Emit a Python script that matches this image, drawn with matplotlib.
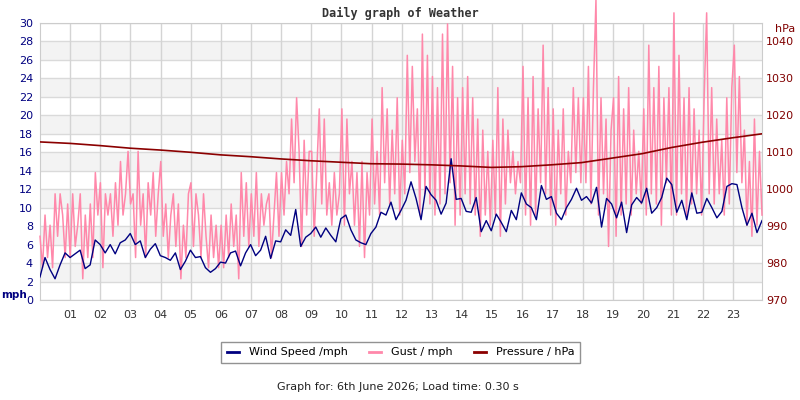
import numpy as np
import matplotlib
matplotlib.use("Agg")
import matplotlib.pyplot as plt

# wind speed, 10 minute samples (mph)
wind = [
	2.5, 4.6, 3.3, 2.3, 3.8, 5.1,
	4.6, 5.0, 5.4, 3.4, 3.8, 6.5,
	6.0, 5.1, 6.0, 5.0, 6.2, 6.5,
	7.2, 6.0, 6.4, 4.6, 5.5, 6.1,
	4.8, 4.6, 4.3, 5.1, 3.3, 4.2,
	5.4, 4.6, 4.7, 3.5, 3.0, 3.4,
	4.1, 4.0, 5.1, 5.3, 3.7, 5.1,
	6.0, 4.8, 5.4, 6.9, 4.5, 6.4,
	6.3, 7.6, 7.0, 9.8, 5.8, 6.8,
	7.2, 7.9, 6.8, 7.8, 7.0, 6.3,
	8.8, 9.2, 7.6, 6.5, 6.2, 6.0,
	7.2, 7.9, 9.5, 9.2, 10.6, 8.7,
	9.7, 10.8, 12.8, 11.0, 8.7, 12.3,
	11.4, 10.8, 9.3, 10.5, 15.3, 10.9,
	11.0, 9.6, 9.5, 11.1, 7.4, 8.6,
	7.5, 9.3, 8.4, 7.4, 9.7, 8.7,
	11.6, 10.4, 10.0, 8.7, 12.4, 10.9,
	11.2, 9.4, 8.7, 10.0, 10.9, 12.1,
	10.8, 11.2, 10.5, 12.2, 7.9, 11.0,
	10.4, 8.9, 10.6, 7.3, 10.3, 11.1,
	10.5, 12.1, 9.4, 10.0, 11.1, 13.2,
	12.5, 9.5, 10.8, 8.7, 11.6, 9.4,
	9.5, 11.0, 10.0, 8.9, 9.6, 12.3,
	12.6, 12.5, 10.0, 8.1, 9.4, 7.3, 8.6,
]

# gusts, 5 minute samples (mph)
gust = [
	6.9, 3.5, 9.2, 4.6, 8.1, 3.5, 11.5, 6.9, 11.5, 9.2, 4.6, 10.4,
	4.6, 11.5, 5.8, 8.1, 11.5, 2.3, 9.2, 4.6, 10.4, 4.6, 13.8, 9.2,
	12.7, 3.5, 11.5, 9.2, 11.5, 6.9, 12.7, 8.1, 15.0, 9.2, 11.5, 16.1,
	10.4, 11.5, 4.6, 16.1, 8.1, 11.5, 4.6, 12.7, 9.2, 13.8, 6.9, 11.5,
	15.0, 6.9, 10.4, 4.6, 9.2, 11.5, 5.8, 10.4, 2.3, 8.1, 4.6, 11.5,
	12.7, 5.8, 11.5, 9.2, 4.6, 11.5, 6.9, 3.5, 9.2, 4.6, 8.1, 3.5,
	8.1, 3.5, 9.2, 4.6, 10.4, 5.8, 9.2, 2.3, 13.8, 6.9, 12.7, 5.8,
	11.5, 6.9, 13.8, 5.8, 11.5, 8.1, 10.4, 11.5, 4.6, 9.2, 13.8, 6.9,
	13.8, 9.2, 15.0, 11.5, 19.6, 12.7, 21.9, 16.1, 5.8, 17.3, 9.2, 16.1,
	16.1, 6.9, 13.8, 20.7, 10.4, 19.6, 9.2, 12.7, 8.1, 13.8, 9.2, 11.5,
	20.7, 8.1, 19.6, 11.5, 15.0, 8.1, 13.8, 5.8, 15.0, 4.6, 13.8, 9.2,
	19.6, 10.4, 16.1, 9.2, 23.0, 12.7, 20.7, 10.4, 18.4, 11.5, 21.9, 9.2,
	17.3, 11.5, 26.5, 13.8, 25.3, 15.0, 20.7, 9.2, 28.8, 11.5, 26.5, 10.4,
	24.2, 9.2, 23.0, 10.4, 28.8, 11.5, 29.9, 12.7, 25.3, 8.1, 21.9, 9.2,
	23.0, 11.5, 24.2, 10.4, 21.9, 9.2, 19.6, 6.9, 18.4, 9.2, 16.1, 8.1,
	17.3, 9.2, 23.0, 6.9, 19.6, 10.4, 18.4, 12.7, 16.1, 11.5, 15.0, 12.7,
	25.3, 9.2, 21.9, 8.1, 24.2, 9.2, 20.7, 12.7, 27.6, 11.5, 23.0, 9.2,
	20.7, 8.1, 18.4, 11.5, 20.7, 9.2, 16.1, 12.7, 23.0, 13.8, 21.9, 12.7,
	21.9, 12.7, 25.3, 10.4, 23.0, 32.5, 9.2, 21.9, 11.5, 19.6, 5.8, 18.4,
	21.9, 6.9, 24.2, 9.2, 20.7, 10.4, 23.0, 9.2, 18.4, 11.5, 16.1, 10.4,
	20.7, 9.2, 27.6, 11.5, 23.0, 10.4, 25.3, 8.1, 21.9, 12.7, 23.0, 9.2,
	31.1, 9.2, 26.5, 11.5, 21.9, 9.2, 23.0, 10.4, 20.7, 11.5, 18.4, 9.2,
	21.9, 31.1, 11.5, 23.0, 10.4, 19.6, 11.5, 17.3, 9.2, 21.9, 10.4, 23.0,
	27.6, 13.8, 24.2, 12.7, 18.4, 8.1, 15.0, 6.9, 19.6, 8.1, 16.1, 9.2,
]

# pressure, hourly (hPa)
pressure = [1012.8, 1012.4, 1011.8, 1011.1, 1010.6, 1010.0, 1009.3, 1008.8,
	1008.2, 1007.7, 1007.3, 1006.9, 1006.8, 1006.6, 1006.3, 1005.9,
	1006.1, 1006.6, 1007.2, 1008.4, 1009.6, 1011.3, 1012.7, 1013.9, 1015.0]

hour_labels = ["%02d" % h for h in range(1, 24)]
mph_ticks = list(range(0, 31, 2))
hpa_ticks = list(range(970, 1041, 10))

END = 23.95
t_wind = np.linspace(0, END, len(wind))
t_gust = np.linspace(0, END, len(gust))
t_pres = np.linspace(0, END, len(pressure))

fig = plt.figure(figsize=(8, 4), dpi=100)
ax = fig.add_axes([0.05, 0.25, 0.9025, 0.6925])
ax.set_xlim(0, END)
ax.set_ylim(0, 30)

for lo in range(2, 30, 4):
	ax.axhspan(lo, lo+2, color="#f3f3f3", zorder=0, lw=0)
for y in mph_ticks:
	ax.axhline(y, color="#dadada", lw=1, zorder=1)
for h in range(1, 24):
	ax.axvline(h, color="#d4d4d4", lw=1, zorder=1)

ax.plot(t_gust, gust, color="#ff88aa", lw=1.1, zorder=3, clip_on=False, label="Gust / mph")
ax.plot(t_wind, wind, color="#000080", lw=1, zorder=4, label="Wind Speed /mph")

ax2 = ax.twinx()
ax2.set_ylim(970, 1045)
ax2.plot(t_pres, pressure, color="#8b0000", lw=1.2, zorder=5, label="Pressure / hPa")

for s in ax.spines.values():
	s.set_color("#cccccc")
for s in ax2.spines.values():
	s.set_visible(False)

ax.set_xticks(range(1, 24))
ax.set_xticklabels(hour_labels)
ax.set_yticks(mph_ticks)
ax.tick_params(axis="x", length=0, labelsize=8, labelcolor="#333333", pad=7)
ax.tick_params(axis="y", length=0, labelsize=8, labelcolor="#000080", pad=5)
ax2.set_yticks(hpa_ticks)
ax2.tick_params(axis="y", length=0, labelsize=8, labelcolor="#800000", pad=3)

fig.text(0.002, 0.262, "mph", color="#000080", fontsize=7.5, fontweight="bold", va="center")
fig.text(0.982, 0.928, "hPa", color="#800000", fontsize=8, ha="center", va="center")
fig.text(0.5, 0.967, "Daily graph of Weather", family="DejaVu Sans Mono", fontweight="bold",
	fontsize=8.5, color="#333333", ha="center", va="center")

h1, l1 = ax.get_legend_handles_labels()
h2, l2 = ax2.get_legend_handles_labels()
order = [1, 0]
leg = fig.legend([h1[i] for i in order] + h2, [l1[i] for i in order] + l2, ncol=3,
	loc="center", bbox_to_anchor=(0.501, 0.119), fontsize=8, frameon=True, fancybox=False,
	handlelength=1.1, columnspacing=1.9, handletextpad=0.9, borderpad=0.5)
leg.get_frame().set_edgecolor("#777777")
leg.get_frame().set_linewidth(1)
for line in leg.get_lines():
	line.set_linewidth(2)

fig.text(0.497, 0.032, "Graph for: 6th June 2026; Load time: 0.30 s", fontsize=8,
	color="#222222", ha="center", va="center")

plt.savefig("out.png", dpi=100)
